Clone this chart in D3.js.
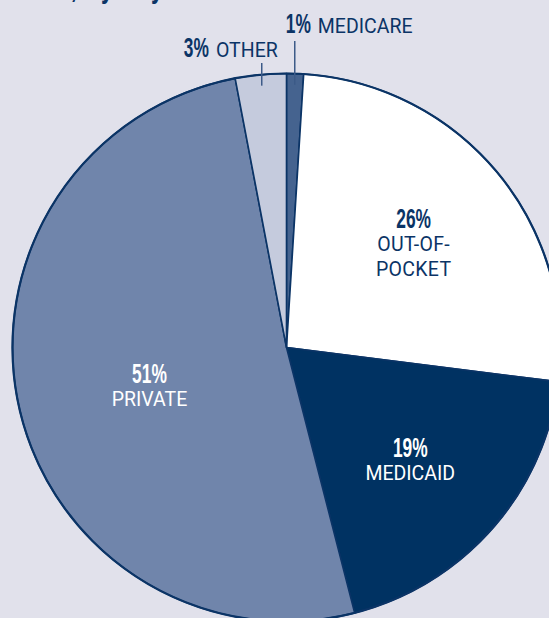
<!DOCTYPE html>
<html>
<head>
<meta charset="utf-8">
<script src="https://cdn.jsdelivr.net/npm/d3@7"></script>
<style>
  html, body { margin: 0; padding: 0; background: #e1e1eb; overflow: hidden; }
  svg { display: block; }
</style>
</head>
<body>
<div id="container"></div>
<script>
/**
 * DATA
 * */
const payers = ["Medicare", "Out-of-pocket", "Medicaid", "Private", "Other"];
const shares = [1, 26, 19, 51, 3];
const pctLabels = ["1%", "26%", "19%", "51%", "3%"];
const nameLabels = [["MEDICARE"], ["OUT-OF-", "POCKET"], ["MEDICAID"], ["PRIVATE"], ["OTHER"]];
const titleText = "Births, by Payer";

/**
 * CONSTANTS
 * */
const width = 549,
    height = 618,
    cx = 286.5,
    cy = 347.5,
    radius = 274;

const navy = "#0b3466";
const fills = ["#45638f", "#ffffff", "#003262", "#7085ab", "#c5cbdd"];
const textFill = [navy, navy, "#ffffff", "#ffffff", navy];
const outside = [true, false, false, false, true];
// small nudges for the inside labels (px)
const nudge = [[0, 0], [0, 9], [0, 11], [24, 11], [0, 0]];
const leaderTop = [41, 63];
const pctFont = "'Liberation Sans Narrow', 'Liberation Sans', sans-serif";
const pctScale = 0.62;

const svg = d3.select("#container")
    .append("svg")
    .attr("width", width)
    .attr("height", height);

// clipped title at the top
svg.append("text")
    .attr("transform", "translate(6,-3) scale(0.66,1)")
    .attr("font-family", pctFont)
    .attr("font-weight", "bold")
    .attr("font-size", 34)
    .attr("word-spacing", 6)
    .attr("fill", navy)
    .text(titleText);

const data = payers.map((p, i) => ({ payer: p, value: shares[i] }));

const pie = d3.pie()
    .sort(null)
    .value(d => d.value)
    .startAngle(0)
    .endAngle(2 * Math.PI);

const arcs = pie(data);

const arc = d3.arc()
    .innerRadius(0)
    .outerRadius(radius);

const labelArc = d3.arc()
    .innerRadius(0)
    .outerRadius(330);

const g = svg.append("g")
    .attr("transform", `translate(${cx},${cy})`);

g.selectAll("path.slice")
    .data(arcs)
    .join("path")
    .attr("class", "slice")
    .attr("d", arc)
    .attr("fill", d => fills[d.index])
    .attr("stroke", navy)
    .attr("stroke-width", 1.6)
    .attr("stroke-linejoin", "round");

// outer rim
g.append("circle")
    .attr("r", radius)
    .attr("fill", "none")
    .attr("stroke", navy)
    .attr("stroke-width", 2.2);

// inside labels
const inner = g.selectAll("g.inlabel")
    .data(arcs.filter(d => !outside[d.index]))
    .join("g")
    .attr("class", "inlabel")
    .attr("transform", d => {
        const [x, y] = labelArc.centroid(d);
        return `translate(${x + nudge[d.index][0]},${y + nudge[d.index][1]})`;
    });

inner.append("text")
    .attr("transform", d => `translate(0,${-nameLabels[d.index].length * 12 + 1}) scale(${pctScale},1)`)
    .attr("text-anchor", "middle")
    .attr("font-family", pctFont)
    .attr("font-weight", "bold")
    .attr("font-size", 28)
    .attr("fill", d => textFill[d.index])
    .text(d => pctLabels[d.index]);

inner.each(function (d) {
    const lines = nameLabels[d.index];
    d3.select(this).selectAll("text.name")
        .data(lines)
        .join("text")
        .attr("class", "name")
        .attr("x", 0)
        .attr("y", (l, j) => -lines.length * 12 + 24 + j * 25)
        .attr("text-anchor", "middle")
        .attr("font-family", "Roboto, sans-serif")
        .attr("font-size", 19.5)
        .attr("letter-spacing", lines.length > 1 ? 0.3 : 0)
        .attr("fill", textFill[d.index])
        .text(l => l);
});

// outside labels with vertical leader lines
arcs.filter(d => outside[d.index]).forEach(d => {
    const mid = (d.startAngle + d.endAngle) / 2;
    const x = cx + Math.sin(mid) * (radius - 11);
    const y0 = cy - Math.cos(mid) * (radius - 11);
    const right = d.index === 0;          // Medicare label runs to the right of its line
    const yTop = leaderTop[right ? 0 : 1];
    const base = yTop - (right ? 8 : 6);

    svg.append("line")
        .attr("x1", x).attr("x2", x)
        .attr("y1", y0).attr("y2", yTop)
        .attr("stroke", "#3c5a88")
        .attr("stroke-width", 1.5);

    const lbl = svg.append("g");

    const pct = lbl.append("text")
        .attr("font-family", pctFont)
        .attr("font-weight", "bold")
        .attr("font-size", 28)
        .attr("fill", navy)
        .text(pctLabels[d.index]);

    const name = lbl.append("text")
        .attr("font-family", "Roboto, sans-serif")
        .attr("font-size", 19.5)
        .attr("fill", navy)
        .text(nameLabels[d.index][0]);

    const pw = pct.node().getComputedTextLength() * pctScale;
    const nw = name.node().getComputedTextLength();

    let px, nx;
    if (right) {
        px = x - 9;
        nx = px + pw + 7;
    } else {
        nx = x + 16 - nw;
        px = nx - 7 - pw;
    }
    pct.attr("transform", `translate(${px},${base}) scale(${pctScale},1)`);
    name.attr("x", nx).attr("y", base);
});
</script>
</body>
</html>
